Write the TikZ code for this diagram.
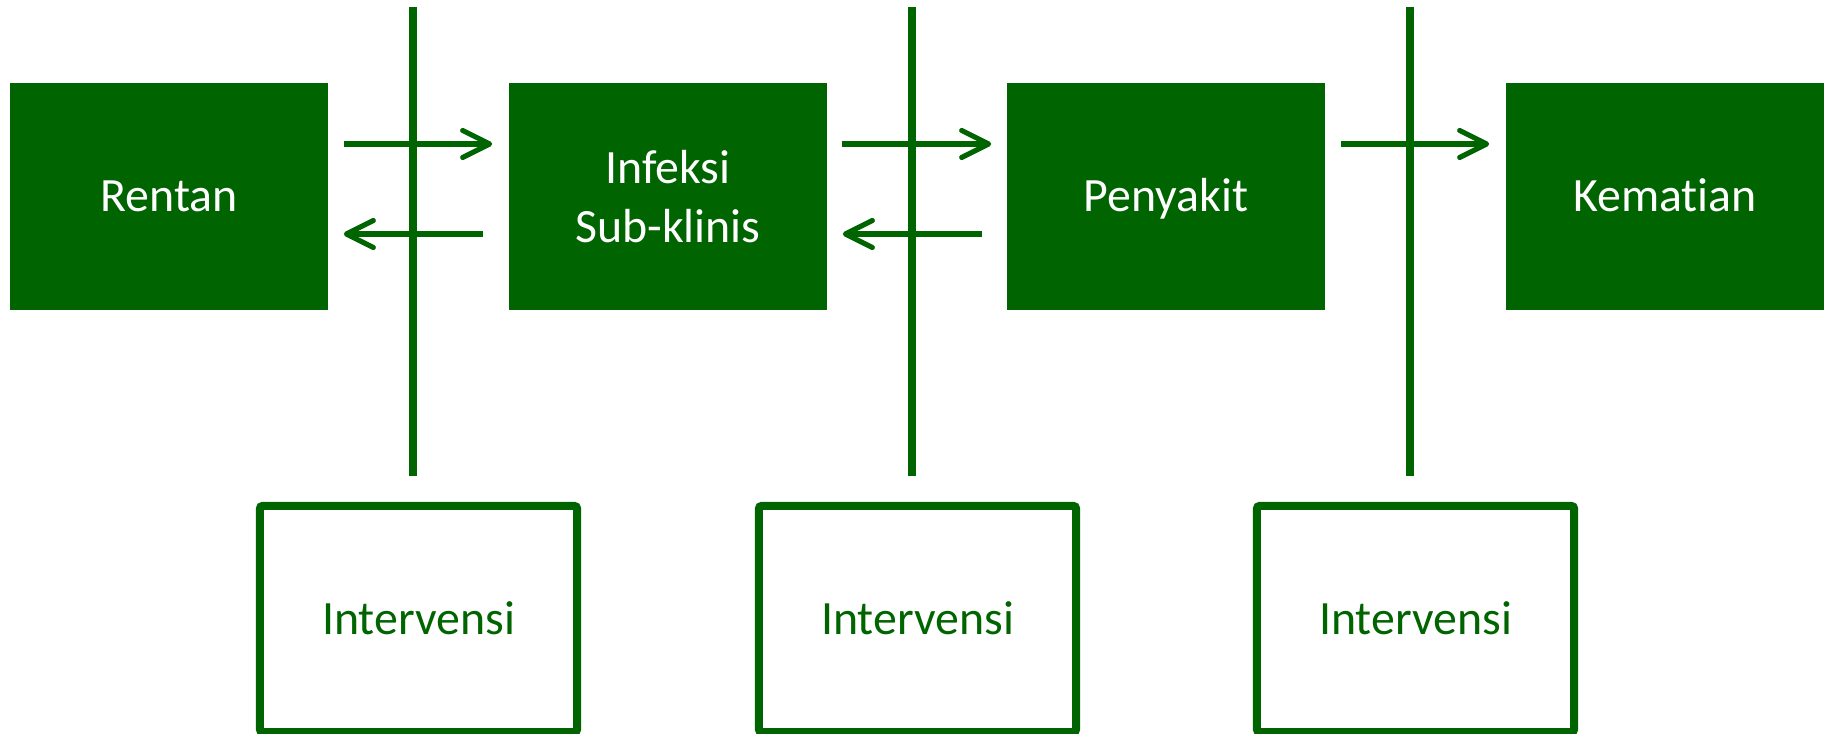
\documentclass[tikz,border=0pt]{standalone}
\usepackage{fontspec}
\setmainfont[RawFeature=-liga]{Carlito}
\usetikzlibrary{arrows.meta}
\definecolor{stagegreen}{RGB}{0,100,0}

\begin{document}
\begin{tikzpicture}[x=0.01cm,y=-0.01cm,stage/.style={rectangle,fill=stagegreen,text=white,minimum width=3.18cm,minimum height=2.27cm,inner sep=0pt,align=center,font=\fontsize{13.6}{16.6}\selectfont},oneline/.style={text height=0.4cm,text depth=0.09cm},action/.style={rectangle,draw=stagegreen,line width=2.3pt,rounded corners=0.8pt,fill=white,text=stagegreen,minimum width=3.17cm,minimum height=2.26cm,inner sep=0pt,oneline,font=\fontsize{13.6}{16.6}\selectfont},flow/.style={draw=stagegreen,line width=1.45pt,-{Straight Barb[length=0.27cm,width=0.27cm,line cap=round,line join=round]}},barrier/.style={draw=stagegreen,line width=2.25pt}]
\useasboundingbox (0,0) rectangle (1829,734);
\node[stage,oneline] (rentan) at (169,196.5) {Rentan};
\node[stage] (infeksi) at (668,196.5) {Infeksi\\Sub-klinis};
\node[stage,oneline] (penyakit) at (1166,196.5) {Penyakit};
\node[stage,oneline] (kematian) at (1665,196.5) {Kematian};
\node[action] (int1) at (418.5,619) {Intervensi};
\node[action] (int2) at (917.5,619) {Intervensi};
\node[action] (int3) at (1415.5,619) {Intervensi};
\coordinate (cut1a) at (413,7);
\coordinate (cut1b) at (413,476);
\coordinate (cut2a) at (912,7);
\coordinate (cut2b) at (912,476);
\coordinate (cut3a) at (1410,7);
\coordinate (cut3b) at (1410,476);
\draw[flow] ([xshift=0.15cm,yshift=0.525cm]rentan.east) -- ([xshift=-0.16cm,yshift=0.525cm]infeksi.west);
\draw[flow] ([xshift=-0.25cm,yshift=-0.375cm]infeksi.west) -- ([xshift=0.15cm,yshift=-0.375cm]rentan.east);
\draw[flow] ([xshift=0.14cm,yshift=0.525cm]infeksi.east) -- ([xshift=-0.15cm,yshift=0.525cm]penyakit.west);
\draw[flow] ([xshift=-0.24cm,yshift=-0.375cm]penyakit.west) -- ([xshift=0.15cm,yshift=-0.375cm]infeksi.east);
\draw[flow] ([xshift=0.15cm,yshift=0.525cm]penyakit.east) -- ([xshift=-0.16cm,yshift=0.525cm]kematian.west);
\draw[barrier] (cut1a) -- (cut1b);
\draw[barrier] (cut2a) -- (cut2b);
\draw[barrier] (cut3a) -- (cut3b);
\end{tikzpicture}
\end{document}
